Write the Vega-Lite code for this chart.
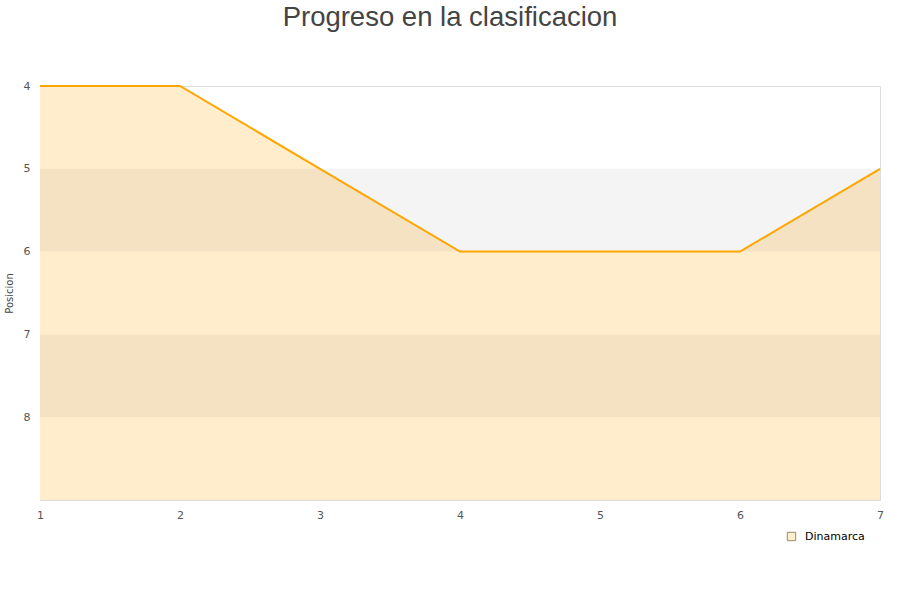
{
  "$schema": "https://vega.github.io/schema/vega-lite/v6.json",
  "width": 840,
  "height": 414,
  "autosize": {"type": "none"},
  "padding": {"left": 40, "top": 86, "right": 20, "bottom": 100},
  "background": "white",
  "title": {
    "text": "Progreso en la clasificacion",
    "font": "Liberation Sans",
    "fontSize": 27.5,
    "fontWeight": "normal",
    "color": "#444444",
    "anchor": "middle",
    "dx": -10,
    "offset": 49
  },
  "datasets": {
    "bands": [
      {"desde": 5, "hasta": 6},
      {"desde": 7, "hasta": 8}
    ],
    "progreso": [
      {"jornada": 1, "posicion": 4, "equipo": "Dinamarca"},
      {"jornada": 2, "posicion": 4, "equipo": "Dinamarca"},
      {"jornada": 3, "posicion": 5, "equipo": "Dinamarca"},
      {"jornada": 4, "posicion": 6, "equipo": "Dinamarca"},
      {"jornada": 5, "posicion": 6, "equipo": "Dinamarca"},
      {"jornada": 6, "posicion": 6, "equipo": "Dinamarca"},
      {"jornada": 7, "posicion": 5, "equipo": "Dinamarca"}
    ]
  },
  "config": {
    "view": {"stroke": "#dddddd", "strokeWidth": 1},
    "axis": {
      "labelFont": "DejaVu Sans",
      "labelFontSize": 11,
      "labelColor": "#555555",
      "labelFlush": false,
      "titleFont": "DejaVu Sans",
      "titleFontSize": 10,
      "titleFontWeight": "normal",
      "titleColor": "#444444",
      "domain": false,
      "ticks": false,
      "grid": false
    }
  },
  "layer": [
    {
      "data": {"name": "progreso"},
      "mark": {"type": "area", "fillOpacity": 1, "interpolate": "linear"},
      "encoding": {
        "x": {
          "field": "jornada",
          "type": "quantitative",
          "scale": {"domain": [1, 7], "nice": false, "zero": false},
          "axis": {"values": [1, 2, 3, 4, 5, 6, 7], "title": null, "labelPadding": 9, "format": "d"}
        },
        "y": {
          "field": "posicion",
          "type": "quantitative",
          "scale": {"domain": [4, 9], "reverse": true, "zero": false, "nice": false},
          "axis": {"values": [4, 5, 6, 7, 8], "title": "Posicion", "labelPadding": 10, "titlePadding": 9, "format": "d"}
        },
        "y2": {"datum": 9},
        "fill": {
          "field": "equipo",
          "type": "nominal",
          "scale": {"range": ["#ffedcc"]},
          "legend": {
            "title": null,
            "orient": "none",
            "legendX": 746,
            "legendY": 445,
            "symbolType": "square",
            "symbolSize": 70,
            "symbolStrokeColor": "#9a8a70",
            "symbolStrokeWidth": 1,
            "labelFont": "DejaVu Sans",
            "labelFontSize": 11,
            "labelColor": "#000000",
            "labelOffset": 8
          }
        }
      }
    },
    {
      "data": {"name": "bands"},
      "mark": {"type": "rect", "color": "#000000", "opacity": 0.045},
      "encoding": {
        "y": {"field": "desde", "type": "quantitative"},
        "y2": {"field": "hasta"}
      }
    },
    {
      "data": {"name": "progreso"},
      "mark": {"type": "line", "color": "#ffa500", "strokeWidth": 2},
      "encoding": {
        "x": {"field": "jornada", "type": "quantitative"},
        "y": {"field": "posicion", "type": "quantitative"}
      }
    }
  ]
}
